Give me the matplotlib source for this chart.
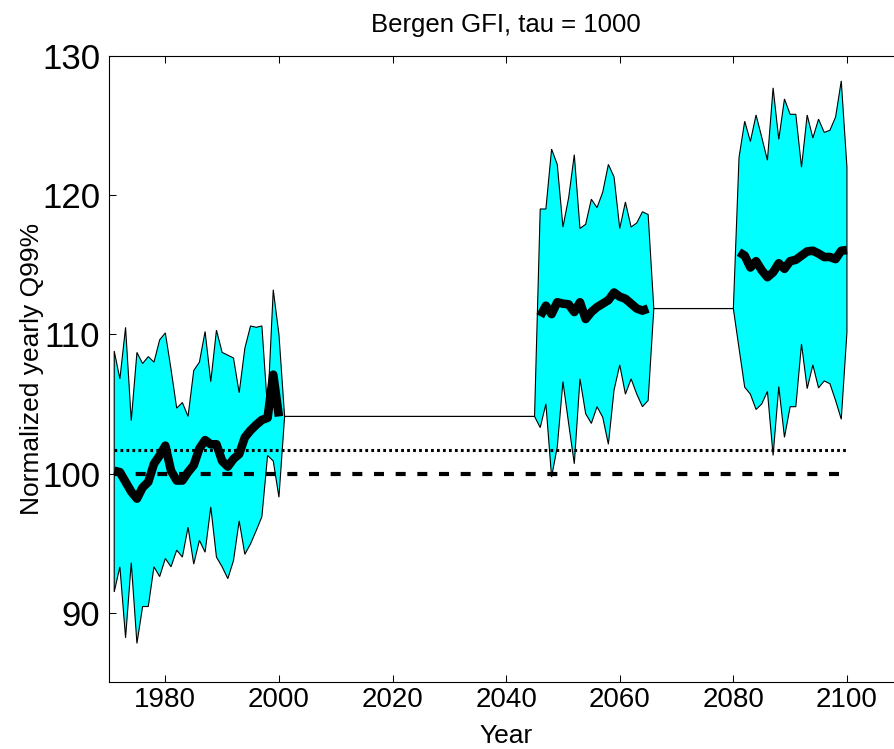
import matplotlib
matplotlib.use("Agg")
import matplotlib.pyplot as plt
from matplotlib import font_manager

# ---- data -------------------------------------------------------------
years_ctrl = list(range(1971, 2001))
upper_ctrl = [108.8, 106.8, 110.5, 103.8, 108.7, 107.9, 108.4, 108.0, 109.6, 110.1,
              107.5, 104.7, 105.1, 104.1, 107.4, 108.0, 110.2, 106.6, 110.3, 108.7,
              108.5, 108.3, 105.8, 109.0, 110.6, 110.5, 110.6, 104.6, 113.2, 110.0]
lower_ctrl = [91.5, 93.3, 88.2, 93.6, 87.8, 90.45, 90.45, 93.3, 92.6, 93.9,
              93.3, 94.5, 94.0, 96.15, 93.5, 95.2, 94.35, 97.6, 94.0, 93.3,
              92.45, 93.75, 96.6, 94.2, 94.95, 95.9, 96.9, 101.3, 100.9, 98.3]
mean_ctrl = [100.2, 100.1, 99.4, 98.7, 98.2, 99.0, 99.4, 100.7, 101.3, 102.0,
             100.2, 99.5, 99.5, 100.1, 100.6, 101.8, 102.4, 102.1, 102.1, 100.9,
             100.5, 101.05, 101.4, 102.6, 103.1, 103.5, 103.85, 104.0, 107.1, 104.1]

years_mid = list(range(2046, 2066))
upper_mid = [119.0, 119.0, 123.3, 122.2, 117.7, 119.8, 122.9, 117.6, 117.9, 119.7,
             119.1, 120.2, 122.2, 121.3, 117.6, 119.5, 117.7, 118.0, 118.8, 118.6]
lower_mid = [103.3, 105.0, 99.75, 101.9, 106.6, 103.6, 100.7, 106.8, 104.3, 103.6,
             104.8, 104.05, 102.1, 106.0, 107.8, 105.7, 106.8, 105.7, 104.8, 105.25]
mean_mid = [111.3, 112.05, 111.45, 112.3, 112.2, 112.15, 111.6, 112.3, 111.1, 111.6,
            111.95, 112.2, 112.45, 113.0, 112.7, 112.55, 112.2, 111.85, 111.7, 111.85]

years_end = list(range(2081, 2101))
upper_end = [122.7, 125.3, 123.85, 125.75, 124.15, 122.5, 127.7, 124.0, 126.9, 125.8,
             125.8, 122.0, 125.75, 124.1, 125.45, 124.5, 124.65, 125.6, 128.2, 122.0]
lower_end = [109.0, 106.2, 105.7, 104.6, 105.0, 105.9, 101.3, 106.25, 102.6, 104.8,
             104.8, 109.3, 106.1, 107.8, 106.15, 106.65, 106.45, 105.25, 103.9, 110.15]
mean_end = [115.9, 115.65, 114.8, 115.25, 114.6, 114.1, 114.45, 115.1, 114.7, 115.25,
            115.35, 115.65, 115.95, 116.0, 115.8, 115.55, 115.55, 115.4, 116.0, 116.05]

ref_years = [1971, 2100]
ref_dotted = 101.7
ref_dashed = 100.0

xticks = [1980, 2000, 2020, 2040, 2060, 2080, 2100]
yticks = [90, 100, 110, 120, 130]

# ---- fonts ------------------------------------------------------------
available = {f.name for f in font_manager.fontManager.ttflist}
main_font = "Liberation Sans"
narrow_font = "Liberation Sans Narrow" if "Liberation Sans Narrow" in available else main_font
narrow = narrow_font != main_font
plt.rcParams["font.family"] = [main_font, "DejaVu Sans"]
plt.rcParams["lines.scale_dashes"] = False

fig = plt.figure(figsize=(8.94, 7.49), dpi=100)
ax = fig.add_axes([0.1214, 0.0889, 0.8895, 0.8366])

# ---- one polygon for the spread band; the gaps collapse to a thin line
periods = [(years_ctrl, upper_ctrl, lower_ctrl, mean_ctrl),
           (years_mid, upper_mid, lower_mid, mean_mid),
           (years_end, upper_end, lower_end, mean_end)]

top_x, top_y, bot_x, bot_y = [], [], [], []
for i, (yrs, up, lo, mn) in enumerate(periods):
    top_x += list(yrs)
    top_y += list(up)
    bot_x += list(yrs)
    bot_y += list(lo)
    if i < len(periods) - 1:
        nxt = periods[i + 1][0]
        gx = [yrs[-1] + 1, nxt[0] - 1]
        gy = [mn[-1], mn[-1]]
        top_x += gx
        top_y += gy
        bot_x += gx
        bot_y += gy

poly_x = top_x + bot_x[::-1]
poly_y = top_y + bot_y[::-1]
ax.fill(poly_x, poly_y, facecolor="#00FFFF", edgecolor="black", linewidth=0.8, zorder=1)

# reference levels
ax.plot(ref_years, [ref_dotted] * 2, color="black", linewidth=2.2,
        dashes=(2.0, 2.3), zorder=2)
ax.plot(ref_years, [ref_dashed] * 2, color="black", linewidth=3.0,
        dashes=(7.2, 8.4), zorder=2)

# ensemble means
for yrs, up, lo, mn in periods:
    ax.plot(yrs, mn, color="black", linewidth=6.2, solid_joinstyle="round",
            solid_capstyle="butt", zorder=3)

ax.set_xlim(1970, 2110)
ax.set_ylim(85, 130)
ax.set_xticks(xticks)
ax.set_yticks(yticks)
ax.set_xticklabels([str(t) for t in xticks], fontsize=22 if narrow else 20,
                   family=[narrow_font, "DejaVu Sans"])
ax.set_yticklabels([str(t) for t in yticks], fontsize=25)
ax.tick_params(direction="in", length=5, width=0.75, top=True, right=True)
ax.tick_params(axis="x", pad=3)
ax.tick_params(axis="y", pad=6)
for s in ax.spines.values():
    s.set_linewidth(0.8)

ax.set_title("Bergen GFI, tau = 1000", fontsize=18.5, pad=17)
ax.set_xlabel("Year", fontsize=19, family=[narrow_font, "DejaVu Sans"])
ax.xaxis.set_label_coords(0.5, -0.066)
ax.set_ylabel("Normalized yearly Q99%", fontsize=19)
ax.yaxis.set_label_coords(-0.081, 0.5)

fig.savefig("out.png", dpi=100)
